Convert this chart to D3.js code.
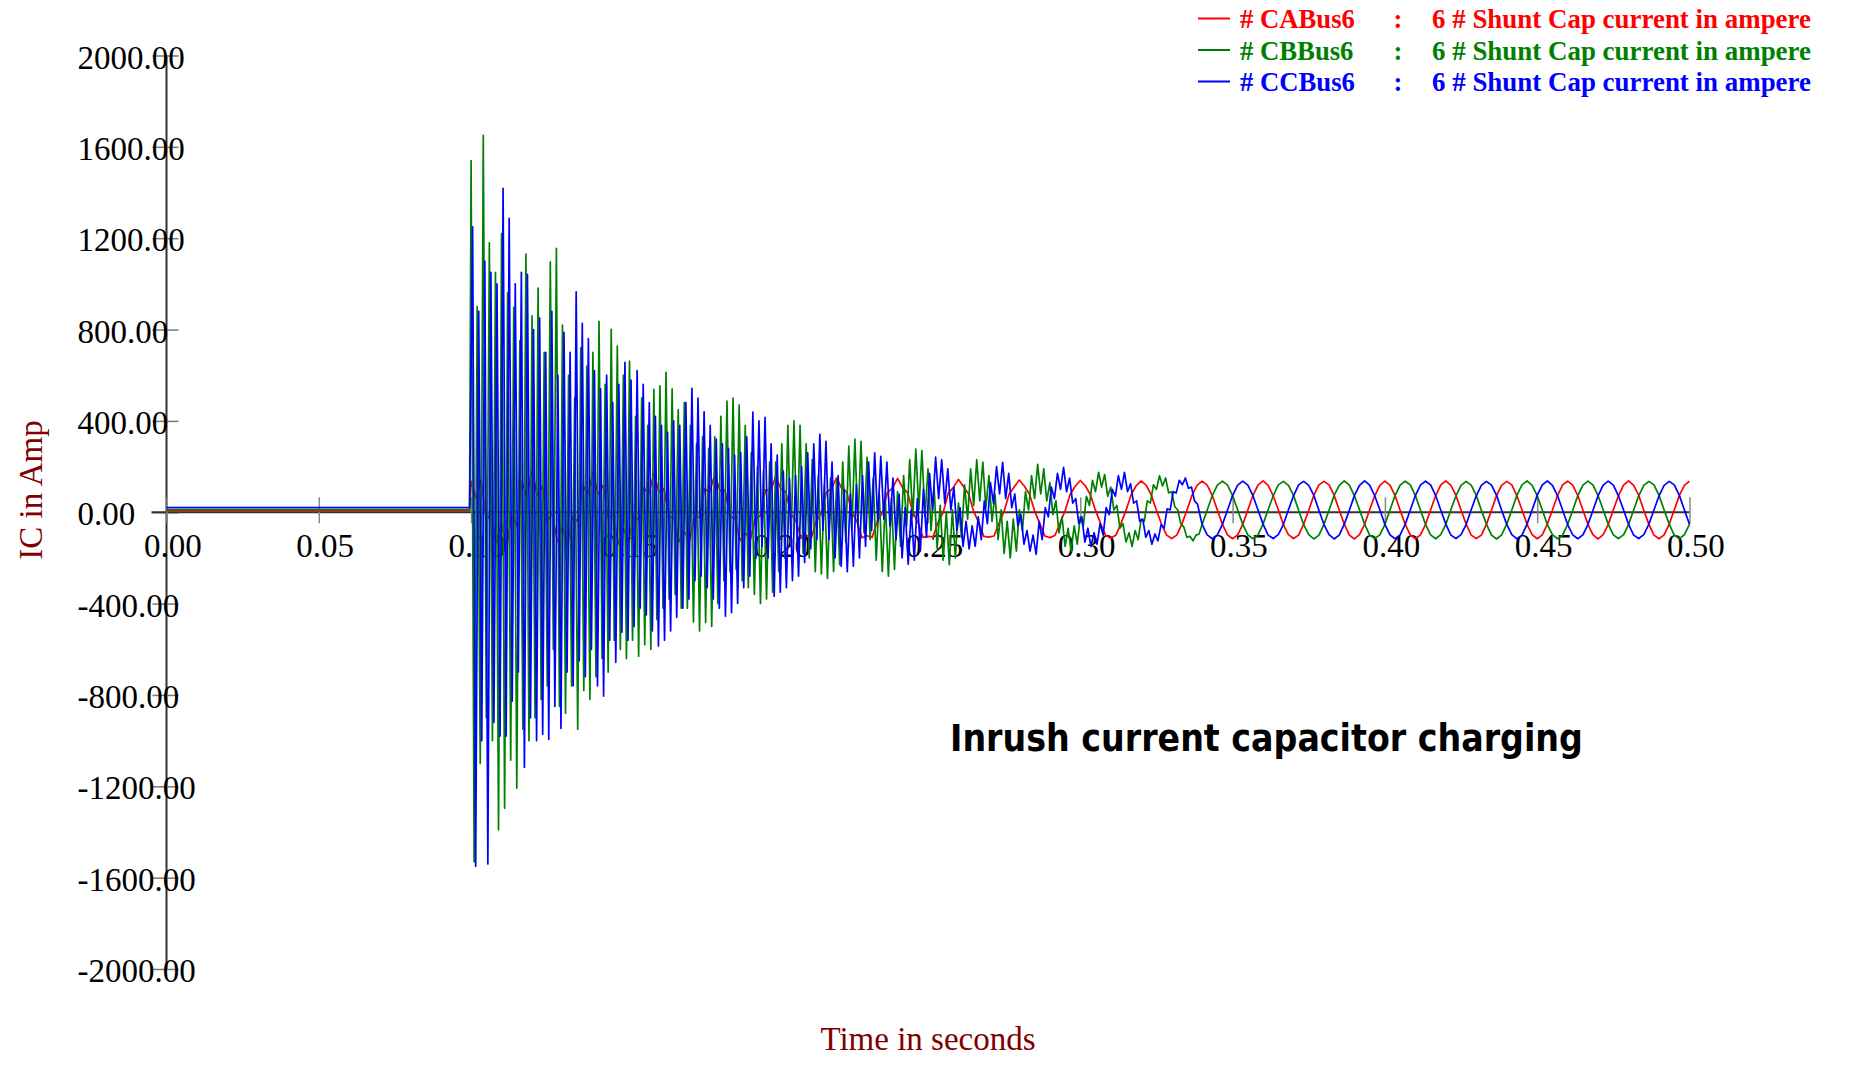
<!DOCTYPE html>
<html><head><meta charset="utf-8">
<script src="https://cdn.jsdelivr.net/npm/d3@7"></script>
<style>html,body{margin:0;padding:0;background:#fff;overflow:hidden;} svg{display:block;}</style>
</head><body>
<svg id="chart" width="1865" height="1066"></svg>
<script>
// ================= DATA =================
const xTicks = [0, 0.05, 0.10, 0.15, 0.20, 0.25, 0.30, 0.35, 0.40, 0.45, 0.50];
const xTickLabels = ["0.00","0.05","0.10","0.15","0.20","0.25","0.30","0.35","0.40","0.45","0.50"];
const yTicks = [2000, 1600, 1200, 800, 400, 0, -400, -800, -1200, -1600, -2000];
const yTickLabels = ["2000.00","1600.00","1200.00","800.00","400.00","0.00","-400.00","-800.00","-1200.00","-1600.00","-2000.00"];

const seriesNames = ["# CABus6", "# CBBus6", "# CCBus6"];
const seriesDescriptions = ["6 # Shunt Cap current in ampere", "6 # Shunt Cap current in ampere", "6 # Shunt Cap current in ampere"];
const xTitle = "Time in seconds";
const yTitle = "IC in Amp";
const annotation = "Inrush current capacitor charging";

// before the switching instant (s, A)
const preTimes = [0.0, 0.0995];
const redPre = [6, 6];
const greenPre = [10, 10];
const bluePre = [20, 20];

// transient, sampled every 1 ms (A); phase B from 0.1000 s, phase C from 0.1005 s
const greenTransientStart = 0.1000, blueTransientStart = 0.1005, transientStep = 0.001;
const greenTransient = [
 1540,-1530,900,-1100,1650,-900,1180,-1000,1050,-1390,
 1220,-1296,962,-1085,897,-1208,750,-950,1130,-1000,
 860,-900,981,-820,700,-760,1096,-600,1156,-850,
 820,-880,600,-760,500,-950,720,-780,640,-820,
 700,-720,836,-640,560,-700,801,-560,728,-600,
 600,-640,662,-560,420,-630,500,-580,380,-600,
 538,-470,553,-420,613,-380,540,-360,450,-420,
 480,-420,380,-480,300,-520,330,-483,280,-500,
 330,-400,420,-300,487,-260,500,-250,470,-300,
 380,-330,260,-360,200,-400,180,-380,220,-350,
 220,-260,300,-200,380,-150,400,-130,380,-180,
 300,-200,230,-260,160,-270,120,-290,150,-260,
 140,-230,220,-130,290,-80,320,-60,310,-90,
 240,-120,150,-210,80,-260,50,-280,60,-250,
 90,-150,160,-60,230,-20,276,10,270,-20,
 190,-80,110,-160,30,-210,0,-230,10,-200,
 40,-110,120,-30,190,30,230,50,220,20,
 160,-40,80,-120,10,-180,-40,-200,-30,-170,
 10,-80,90,10,160,60,210,80,190,50,
 130,-10,50,-90,-20,-150,-70,-170,-60,-140,
 -20,-60,70,30,140,90,175,110,165,70,
 110,10,30,-70,-50,-130,-90,-150,-80,-120,
 -30,-40,50,40,120,100,160,115,150,85,
 90,25,10,-50,-65,-110,-105,-125,-100,-95
];
const blueTransient = [
 1250,-1550,880,-1000,1100,-1540,1050,-920,1000,-980,
 1418,-980,1287,-827,1000,-700,1050,-1117,1042,-900,
 800,-1000,850,-972,700,-994,880,-850,600,-946,
 788,-700,700,-760,965,-650,827,-720,760,-600,
 620,-760,540,-805,600,-560,480,-657,560,-525,
 656,-560,579,-500,620,-420,560,-450,480,-520,
 420,-586,380,-560,350,-520,400,-460,380,-420,
 480,-380,543,-300,500,-280,440,-330,380,-380,
 320,-420,300,-455,280,-440,250,-400,260,-330,
 330,-280,438,-200,400,-150,416,-200,300,-368,
 250,-350,180,-330,150,-300,160,-280,200,-220,
 260,-160,300,-120,341,-80,310,-120,220,-200,
 160,-236,100,-260,80,-236,120,-200,160,-150,
 220,-80,260,-40,245,-30,220,-60,150,-120,
 80,-200,20,-228,10,-210,60,-170,100,-110,
 170,10,241,60,230,40,190,10,110,-80,
 20,-150,-40,-160,-60,-149,-20,-120,50,-50,
 130,40,200,80,219,60,170,20,80,-60,
 -10,-140,-80,-170,-100,-184,-40,-120,20,-20,
 110,60,170,100,197,90,150,40,60,-50,
 -20,-131,-70,-150,-90,-140,-50,-100,20,-10,
 100,70,160,100,175,90,125,40,50,-40,
 -30,-110,-80,-140,-95,-125,-55,-70,15,10,
 90,85,140,120,150,105,110,50,35,-25
];

// phase A after switching, sampled every 1/600 s from 0.100 s to 0.500 s (A)
const redStart = 0.100, redStep = 1 / 600;
const redMain = [
 136,59,143,-40,7,-139,-46,-159,-3,-60,133,69,
 186,74,113,-40,-8,-129,-66,-144,-18,-40,118,79,
 176,79,118,-25,-13,-139,-71,-129,-13,-35,108,79,
 171,89,103,-20,-23,-129,-86,-124,-23,-20,103,89,
 166,94,98,-15,-28,-124,-91,-119,-28,-15,98,94,
 156,104,88,-5,-38,-114,-101,-114,-38,-5,88,104,
 150,105,88,0,-40,-112,-103,-110,-40,-3,86,106,
 148,108,85,0,-43,-110,-106,-108,-42,0,84,108,
 144,112,80,4,-46,-106,-109,-104,-47,4,80,112,
 141,114,79,6,-49,-104,-111,-102,-48,6,78,114,
 139,116,76,8,-50,-102,-113,-101,-50,8,76,116,
 137,118,74,9,-52,-100,-115,-100,-52,9,74,118,
 136,119,73,10,-53,-99,-116,-99,-53,10,73,119,
 137,118,72,11,-54,-98,-115,-100,-52,9,74,120,
 135,120,74,10,-52,-100,-117,-98,-53,11,72,118,
 136,119,73,9,-53,-99,-116,-99,-54,10,73,119,
 137,118,74,10,-52,-100,-115,-100,-53,9,74,118,
 135,120,72,11,-53,-98,-116,-99,-52,10,73,120,
 136,119,73,10,-54,-99,-117,-98,-53,11,72,119,
 137,118,74,9,-53,-100,-116,-99,-52,10,74,118,
 136
];

// phases B and C in steady state, sampled every 1/600 s from 0.340 s to 0.500 s (A)
const steadyStart = 0.340, steadyStep = 1 / 600;
const greenSteady = [
 -53,10,73,119,136,119,73,10,-53,-99,-116,-99,
 -52,11,72,120,135,118,74,9,-54,-98,-117,-100,
 -53,9,74,118,137,119,72,11,-52,-100,-115,-99,
 -54,10,73,119,136,120,73,10,-53,-99,-116,-98,
 -53,11,72,118,135,119,74,9,-52,-100,-117,-99,
 -52,10,74,120,137,118,73,10,-54,-98,-116,-100,
 -53,9,73,119,136,119,72,11,-53,-99,-115,-99,
 -54,10,72,118,135,120,74,10,-52,-100,-116,-98,
 -53
];
const blueSteady = [
 -53,-99,-116,-99,-53,10,73,119,136,119,73,10,
 -52,-100,-115,-98,-54,11,72,120,135,118,74,9,
 -54,-98,-117,-100,-52,9,74,118,137,119,72,11,
 -53,-99,-116,-99,-53,10,73,119,136,120,73,10,
 -52,-100,-115,-98,-54,11,72,118,135,119,74,9,
 -53,-98,-117,-100,-52,10,74,120,137,118,73,10,
 -54,-99,-116,-99,-53,9,73,119,136,119,72,11,
 -53,-100,-115,-98,-52,10,72,118,135,120,74,10,
 -53
];

const seriesColors = ["#ff0000", "#008000", "#0000ff"];

// ================= BUILD =================
const seq = (start, step, vals) => vals.map((v, i) => ({ t: start + i * step, v }));
const pre = vals => preTimes.map((t, i) => ({ t, v: vals[i] }));

const redData = pre(redPre).concat(seq(redStart, redStep, redMain));
const greenData = pre(greenPre).concat(seq(greenTransientStart, transientStep, greenTransient), seq(steadyStart, steadyStep, greenSteady));
const blueData = pre(bluePre).concat(seq(blueTransientStart, transientStep, blueTransient), seq(steadyStart, steadyStep, blueSteady));
const allSeries = [redData, greenData, blueData];

const svg = d3.select("#chart");
const serif = "'Liberation Serif', 'Times New Roman', 'DejaVu Serif', serif";

const x = d3.scaleLinear().domain([0, 0.5]).range([166.5, 1689.5]);
const y = d3.scaleLinear().domain([-2000, 2000]).range([969, 55.5]);
const y0 = y(0);

// Y axis
const gy = svg.append("g").attr("transform", `translate(${x(0)},0)`)
  .call(d3.axisLeft(y).tickValues(yTicks).tickFormat((d, i) => yTickLabels[i]).tickSizeOuter(0));
gy.select(".domain").attr("stroke", "#333").attr("stroke-width", 2)
  .attr("d", `M0,${y(2000)}V${y(-2000)}`);
gy.selectAll(".tick line").attr("x1", -14).attr("x2", 12).attr("stroke", "#777").attr("stroke-width", 1.5);
gy.selectAll(".tick text")
  .attr("font-family", serif).attr("font-size", 33).attr("fill", "#000")
  .attr("text-anchor", "start").attr("x", 77.5 - x(0)).attr("dy", 0).attr("y", 12.5);

// X axis
const gx = svg.append("g").attr("transform", `translate(0,${y0})`)
  .call(d3.axisBottom(x).tickValues(xTicks).tickFormat((d, i) => xTickLabels[i]).tickSizeOuter(0));
gx.select(".domain").attr("stroke", "#333").attr("stroke-width", 2.2)
  .attr("d", `M${x(0) - 15},0H${x(0.5)}`);
gx.selectAll(".tick line").attr("y1", -15).attr("y2", 11).attr("stroke", "#888").attr("stroke-width", 1.5);
gx.selectAll(".tick text")
  .attr("font-family", serif).attr("font-size", 33).attr("fill", "#000")
  .attr("text-anchor", "start").attr("x", -23).attr("dy", 0).attr("y", 557 - y0);
svg.selectAll("g").attr("font-family", null).attr("font-size", null);

// data lines
const line = d3.line().x(d => x(d.t)).y(d => y(d.v)).curve(d3.curveLinear);
svg.append("g").selectAll("path").data(allSeries).join("path")
  .attr("d", line)
  .attr("fill", "none")
  .attr("stroke", (d, i) => seriesColors[i])
  .attr("stroke-width", 1.7)
  .attr("stroke-linejoin", "round");

// axis titles
svg.append("text").attr("transform", "translate(42,490) rotate(-90)")
  .attr("text-anchor", "middle").attr("font-family", serif).attr("font-size", 33)
  .attr("fill", "#800000").text(yTitle);
svg.append("text").attr("x", 928).attr("y", 1050)
  .attr("text-anchor", "middle").attr("font-family", serif).attr("font-size", 33)
  .attr("fill", "#800000").text(xTitle);

// legend
const legendRowY = [18.5, 50, 81.5];
const lg = svg.append("g").selectAll("g").data(seriesNames).join("g")
  .attr("transform", (d, i) => `translate(0,${legendRowY[i]})`);
lg.append("line").attr("x1", 1198).attr("x2", 1230).attr("y1", 0).attr("y2", 0)
  .attr("stroke", (d, i) => seriesColors[i]).attr("stroke-width", 2);
const legText = (sel, xx, anchor, fn) => sel.append("text").attr("x", xx).attr("y", 9.5)
  .attr("text-anchor", anchor).attr("font-family", serif).attr("font-weight", "bold")
  .attr("font-size", 26.7).attr("fill", (d, i) => seriesColors[i]).text(fn);
legText(lg, 1240, "start", d => d);
legText(lg, 1398, "middle", () => ":");
legText(lg, 1432, "start", (d, i) => seriesDescriptions[i])
  .attr("textLength", 379).attr("lengthAdjust", "spacingAndGlyphs");

// annotation
const ann = svg.append("text").attr("x", 950).attr("y", 751)
  .attr("font-family", "'DejaVu Sans Condensed', 'DejaVu Sans', sans-serif")
  .attr("font-stretch", "condensed")
  .attr("font-weight", "bold").attr("font-size", 38).attr("fill", "#000").text(annotation);
const aw = ann.node().getComputedTextLength();
ann.attr("font-size", 38 * 633 / aw);
</script>
</body></html>
